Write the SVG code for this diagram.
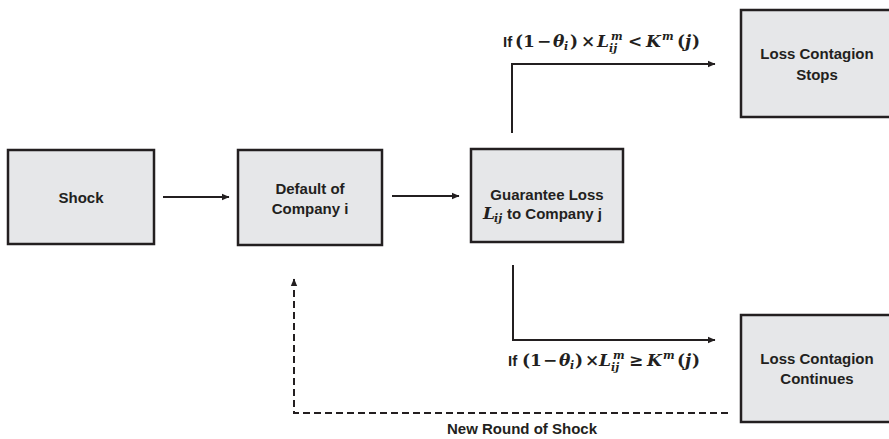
<svg xmlns="http://www.w3.org/2000/svg" width="889" height="439" viewBox="0 0 889 439">
<defs>
<style>
.box{fill:#e6e7e9;stroke:#231f20;stroke-width:2.5}
.lbl{font-family:"Liberation Sans",Arial,sans-serif;font-weight:bold;font-size:15px;fill:#231f20;text-anchor:middle}
.sans{font-family:"Liberation Sans",Arial,sans-serif;font-weight:bold;font-size:15px;fill:#231f20;font-style:normal}
.m{font-family:"DejaVu Serif","Liberation Serif",serif;font-weight:bold;font-size:17px;fill:#231f20}
.mi{font-style:italic}
.sm{font-size:11px}
.ln{fill:none;stroke:#231f20;stroke-width:2}
.dash{stroke-dasharray:7,4}
</style>
<marker id="ah" markerWidth="8" markerHeight="8" refX="7" refY="4" orient="auto" markerUnits="userSpaceOnUse">
<path d="M0,0.8 L7.5,4 L0,7.2 Z" fill="#231f20"/>
</marker>
</defs>
<rect width="889" height="439" fill="#ffffff"/>

<g id="connectors">
<line class="ln" x1="163" y1="197" x2="229" y2="197" marker-end="url(#ah)"/>
<line class="ln" x1="392" y1="196" x2="459" y2="196" marker-end="url(#ah)"/>
<polyline class="ln" points="512,133 512,64 715,64" marker-end="url(#ah)"/>
<polyline class="ln" points="513,265 513,340 715,340" marker-end="url(#ah)"/>
<polyline class="ln dash" points="728,413 294,413 294,279" marker-end="url(#ah)"/>
</g>

<g id="shock">
<rect class="box" x="8" y="150" width="146" height="94"/>
<text class="lbl" x="81" y="203">Shock</text>
</g>

<g id="default">
<rect class="box" x="238" y="150" width="144" height="95"/>
<text class="lbl" x="310" y="194">Default of</text>
<text class="lbl" x="310" y="214">Company i</text>
</g>

<g id="guarantee">
<rect class="box" x="471" y="149" width="152" height="93"/>
<text class="lbl" x="547" y="200">Guarantee Loss</text>
<text class="m" y="219"><tspan class="mi" x="483">L</tspan><tspan class="mi sm" x="494" dy="3">ij</tspan><tspan class="sans" x="507" dy="-3">to Company j</tspan></text>
</g>

<g id="stops">
<rect class="box" x="741" y="10" width="152" height="107"/>
<text class="lbl" x="817" y="59">Loss Contagion</text>
<text class="lbl" x="817" y="80">Stops</text>
</g>

<g id="continues">
<rect class="box" x="741" y="315" width="152" height="107"/>
<text class="lbl" x="817" y="364">Loss Contagion</text>
<text class="lbl" x="817" y="384">Continues</text>
</g>

<g id="label-stops">
<text class="m" y="47"><tspan class="sans" x="503">If</tspan><tspan x="515">(</tspan><tspan x="523">1</tspan><tspan x="537">−</tspan><tspan class="mi" x="553">θ</tspan><tspan class="mi sm" x="564" dy="3">i</tspan><tspan x="570" dy="-3">)</tspan><tspan x="581">×</tspan><tspan class="mi" x="597">L</tspan><tspan class="mi sm" x="611" dy="-7">m</tspan><tspan class="mi sm" x="609" dy="12">ij</tspan><tspan x="628" dy="-5">&lt;</tspan><tspan class="mi" x="646">K</tspan><tspan class="mi sm" x="662" dy="-7">m</tspan><tspan x="677" dy="7">(</tspan><tspan class="mi" x="685">j</tspan><tspan x="692">)</tspan></text>
</g>

<g id="label-continues">
<text class="m" y="366"><tspan class="sans" x="508">If</tspan><tspan x="522">(</tspan><tspan x="530">1</tspan><tspan x="543">−</tspan><tspan class="mi" x="559">θ</tspan><tspan class="mi sm" x="570" dy="3">i</tspan><tspan x="575" dy="-3">)</tspan><tspan x="585">×</tspan><tspan class="mi" x="599">L</tspan><tspan class="mi sm" x="613" dy="-7">m</tspan><tspan class="mi sm" x="611" dy="12">ij</tspan><tspan x="629" dy="-5">≥</tspan><tspan class="mi" x="647">K</tspan><tspan class="mi sm" x="663" dy="-7">m</tspan><tspan x="677" dy="7">(</tspan><tspan class="mi" x="685">j</tspan><tspan x="692">)</tspan></text>
</g>

<g id="label-newround">
<text class="lbl" x="522" y="434">New Round of Shock</text>
</g>
</svg>
